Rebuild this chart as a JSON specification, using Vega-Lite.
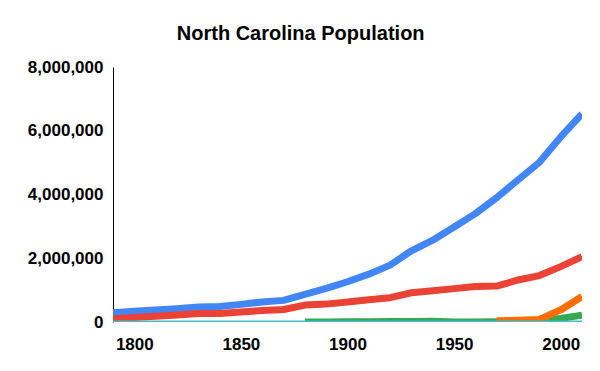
{
  "$schema": "https://vega.github.io/schema/vega-lite/v6.json",
  "width": 469,
  "height": 255,
  "autosize": {"type": "none"},
  "padding": {"left": 113, "top": 67, "right": 18, "bottom": 49},
  "background": "white",
  "config": {
    "view": {"stroke": null},
    "font": "Liberation Sans"
  },
  "title": {
    "text": "North Carolina Population",
    "fontSize": 20,
    "fontWeight": "bold",
    "color": "#000000",
    "anchor": "middle",
    "frame": "bounds",
    "baseline": "alphabetic",
    "offset": -2,
    "dx": -4
  },
  "datasets": {
    "pop": [
      {"year": 1790, "series": "White", "value": 289181},
      {"year": 1800, "series": "White", "value": 337764},
      {"year": 1810, "series": "White", "value": 376410},
      {"year": 1820, "series": "White", "value": 419200},
      {"year": 1830, "series": "White", "value": 472843},
      {"year": 1840, "series": "White", "value": 484870},
      {"year": 1850, "series": "White", "value": 553028},
      {"year": 1860, "series": "White", "value": 629942},
      {"year": 1870, "series": "White", "value": 678470},
      {"year": 1880, "series": "White", "value": 867242},
      {"year": 1890, "series": "White", "value": 1055382},
      {"year": 1900, "series": "White", "value": 1263603},
      {"year": 1910, "series": "White", "value": 1500511},
      {"year": 1920, "series": "White", "value": 1783779},
      {"year": 1930, "series": "White", "value": 2234958},
      {"year": 1940, "series": "White", "value": 2567635},
      {"year": 1950, "series": "White", "value": 2983121},
      {"year": 1960, "series": "White", "value": 3399285},
      {"year": 1970, "series": "White", "value": 3901767},
      {"year": 1980, "series": "White", "value": 4457507},
      {"year": 1990, "series": "White", "value": 5008491},
      {"year": 2000, "series": "White", "value": 5804656},
      {"year": 2010, "series": "White", "value": 6528950},
      {"year": 1790, "series": "Black", "value": 105547},
      {"year": 1800, "series": "Black", "value": 140339},
      {"year": 1810, "series": "Black", "value": 179090},
      {"year": 1820, "series": "Black", "value": 219629},
      {"year": 1830, "series": "Black", "value": 265144},
      {"year": 1840, "series": "Black", "value": 268549},
      {"year": 1850, "series": "Black", "value": 316011},
      {"year": 1860, "series": "Black", "value": 361522},
      {"year": 1870, "series": "Black", "value": 391650},
      {"year": 1880, "series": "Black", "value": 531277},
      {"year": 1890, "series": "Black", "value": 561018},
      {"year": 1900, "series": "Black", "value": 624469},
      {"year": 1910, "series": "Black", "value": 697843},
      {"year": 1920, "series": "Black", "value": 763407},
      {"year": 1930, "series": "Black", "value": 918647},
      {"year": 1940, "series": "Black", "value": 981298},
      {"year": 1950, "series": "Black", "value": 1047353},
      {"year": 1960, "series": "Black", "value": 1116021},
      {"year": 1970, "series": "Black", "value": 1126478},
      {"year": 1980, "series": "Black", "value": 1318857},
      {"year": 1990, "series": "Black", "value": 1456323},
      {"year": 2000, "series": "Black", "value": 1737545},
      {"year": 2010, "series": "Black", "value": 2048628},
      {"year": 1880, "series": "Asian", "value": 1230},
      {"year": 1890, "series": "Asian", "value": 1516},
      {"year": 1900, "series": "Asian", "value": 5687},
      {"year": 1910, "series": "Asian", "value": 7851},
      {"year": 1920, "series": "Asian", "value": 11824},
      {"year": 1930, "series": "Asian", "value": 16579},
      {"year": 1940, "series": "Asian", "value": 22546},
      {"year": 1950, "series": "Asian", "value": 3742},
      {"year": 1960, "series": "Asian", "value": 3000},
      {"year": 1970, "series": "Asian", "value": 6000},
      {"year": 1980, "series": "Asian", "value": 21176},
      {"year": 1990, "series": "Asian", "value": 52166},
      {"year": 2000, "series": "Asian", "value": 113689},
      {"year": 2010, "series": "Asian", "value": 208962},
      {"year": 1970, "series": "Hispanic", "value": 40000},
      {"year": 1980, "series": "Hispanic", "value": 56667},
      {"year": 1990, "series": "Hispanic", "value": 76726},
      {"year": 2000, "series": "Hispanic", "value": 378963},
      {"year": 2010, "series": "Hispanic", "value": 800120}
    ],
    "other": [
      {"year": 1790, "series": "Other", "value": 0},
      {"year": 2010, "series": "Other", "value": 0}
    ]
  },
  "layer": [
    {
      "data": {"name": "pop"},
      "mark": {"type": "line", "strokeWidth": 7, "clip": true, "strokeJoin": "round", "strokeCap": "butt"},
      "encoding": {
        "x": {
          "field": "year", "type": "quantitative",
          "scale": {"domain": [1790, 2010], "nice": false, "zero": false},
          "axis": {
            "title": null, "grid": false, "domain": false, "ticks": false,
            "values": [1800, 1850, 1900, 1950, 2000], "format": "d",
            "labelFontSize": 17, "labelFontWeight": "bold", "labelColor": "#000000",
            "labelPadding": 14, "labelBaseline": "top", "labelFlush": false
          }
        },
        "y": {
          "field": "value", "type": "quantitative",
          "scale": {"domain": [0, 8000000], "nice": false},
          "axis": {
            "title": null, "grid": false, "ticks": false,
            "domain": true, "domainColor": "#000000", "domainWidth": 1,
            "values": [0, 2000000, 4000000, 6000000, 8000000], "format": ",d",
            "labelFontSize": 17, "labelFontWeight": "bold", "labelColor": "#000000",
            "labelPadding": 10
          }
        },
        "color": {
          "field": "series", "type": "nominal",
          "scale": {"domain": ["White", "Black", "Asian", "Hispanic"], "range": ["#4285F4", "#EA4335", "#34A853", "#FF6D01"]},
          "legend": null
        },
        "order": {"field": "year", "type": "quantitative"}
      }
    },
    {
      "data": {"name": "other"},
      "mark": {"type": "line", "strokeWidth": 3, "color": "#46BDC6", "clip": true},
      "encoding": {
        "x": {"field": "year", "type": "quantitative"},
        "y": {"field": "value", "type": "quantitative"}
      }
    }
  ]
}
